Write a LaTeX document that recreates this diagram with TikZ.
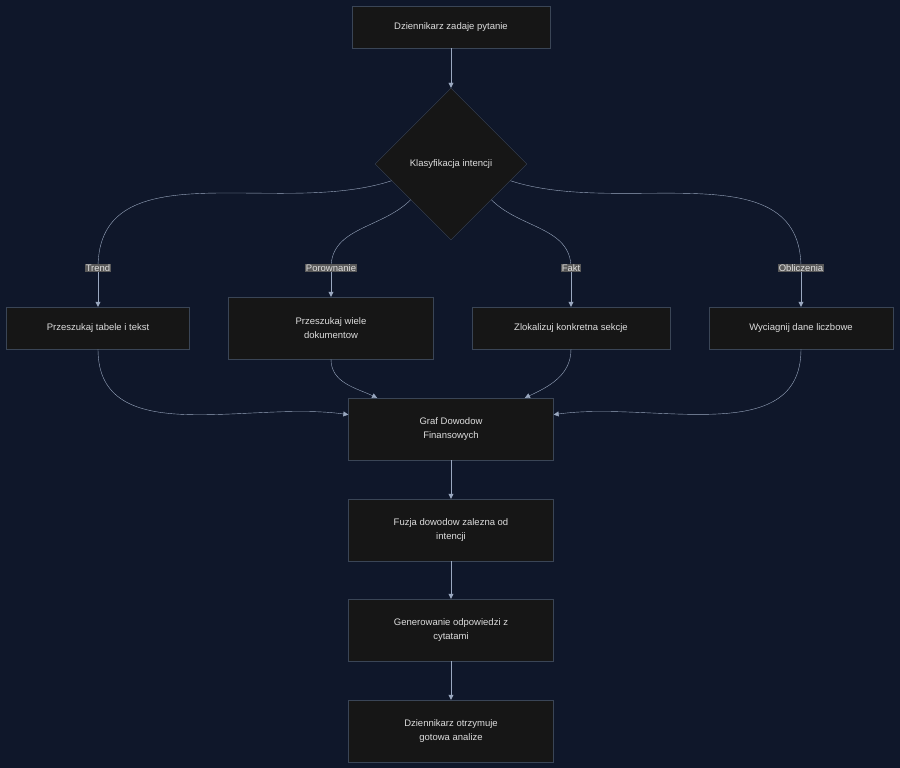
\documentclass[tikz,border=0pt]{standalone}
\usepackage{fontspec}
\setmainfont{Liberation Sans}
\usetikzlibrary{shapes.geometric, arrows.meta, positioning, calc}
\definecolor{bgnavy}{HTML}{0F172A}
\definecolor{boxfill}{HTML}{161616}
\definecolor{boxline}{HTML}{3A4556}
\definecolor{edgecol}{HTML}{9AA8C0}
\definecolor{labfill}{HTML}{595959}
\definecolor{txtcol}{HTML}{DDDDDD}

\begin{document}
\begin{tikzpicture}[
    x=1pt, y=-1pt,
    every node/.style={font=\fontsize{9.5}{14}\selectfont, text=txtcol},
    box/.style={rectangle, draw=boxline, fill=boxfill, align=center, inner sep=0pt},
    decision/.style={diamond, draw=boxline, fill=boxfill, minimum width=152pt, minimum height=152pt, inner sep=0pt},
    edgelabel/.style={fill=labfill, inner sep=1pt},
    arrow/.style={draw=edgecol, thin, -{Triangle[length=5pt,width=5pt]}}
]
    \fill[bgnavy] (0,0) rectangle (900,768);
    \useasboundingbox (0,0) rectangle (900,768);

    \node (ask) [box, minimum width=198pt, minimum height=42pt] at (451,27) {Dziennikarz zadaje pytanie};
    \node (intent) [decision] at (451,164) {Klasyfikacja intencji};
    \node (trend) [box, minimum width=183pt, minimum height=42pt] at (98,328) {Przeszukaj tabele i tekst};
    \node (compare) [box, minimum width=205pt, minimum height=62pt] at (331,328) {Przeszukaj wiele\\dokumentow};
    \node (fact) [box, minimum width=198pt, minimum height=42pt] at (571,328) {Zlokalizuj konkretna sekcje};
    \node (calc) [box, minimum width=184pt, minimum height=42pt] at (801,328) {Wyciagnij dane liczbowe};
    \node (graph) [box, minimum width=205pt, minimum height=62pt] at (451,429) {Graf Dowodow\\Finansowych};
    \node (fusion) [box, minimum width=205pt, minimum height=62pt] at (451,530) {Fuzja dowodow zalezna od\\intencji};
    \node (answer) [box, minimum width=205pt, minimum height=62pt] at (451,630) {Generowanie odpowiedzi z\\cytatami};
    \node (result) [box, minimum width=205pt, minimum height=62pt] at (451,731) {Dziennikarz otrzymuje\\gotowa analize};

    \coordinate (s1) at ($(intent.west)!0.22!(intent.south)$);
    \coordinate (s2) at ($(intent.west)!0.47!(intent.south)$);
    \coordinate (s3) at ($(intent.east)!0.47!(intent.south)$);
    \coordinate (s4) at ($(intent.east)!0.22!(intent.south)$);
    \coordinate (lt) at (98,268);
    \coordinate (lp) at (331,268);
    \coordinate (lf) at (571,268);
    \coordinate (lo) at (801,268);

    \draw [arrow] (ask) -- (intent);
    \draw [draw=edgecol, thin] (s1) to[out=198, in=90] (lt);
    \draw [arrow] (lt) -- (trend);
    \draw [draw=edgecol, thin] (s2) to[out=225, in=90] (lp);
    \draw [arrow] (lp) -- (compare);
    \draw [draw=edgecol, thin] (s3) to[out=-45, in=90] (lf);
    \draw [arrow] (lf) -- (fact);
    \draw [draw=edgecol, thin] (s4) to[out=-18, in=90] (lo);
    \draw [arrow] (lo) -- (calc);

    \node [edgelabel] at (lt) {Trend};
    \node [edgelabel] at (lp) {Porownanie};
    \node [edgelabel] at (lf) {Fakt};
    \node [edgelabel] at (lo) {Obliczenia};

    \draw [arrow] (trend.south) to[out=-90, in=172] ($(graph.north west)!0.27!(graph.south west)$);
    \draw [arrow] (compare.south) to[out=-90, in=155] ($(graph.north west)!0.14!(graph.north east)$);
    \draw [arrow] (fact.south) to[out=-90, in=25] ($(graph.north east)!0.14!(graph.north west)$);
    \draw [arrow] (calc.south) to[out=-90, in=8] ($(graph.north east)!0.27!(graph.south east)$);
    \draw [arrow] (graph) -- (fusion);
    \draw [arrow] (fusion) -- (answer);
    \draw [arrow] (answer) -- (result);
\end{tikzpicture}
\end{document}
